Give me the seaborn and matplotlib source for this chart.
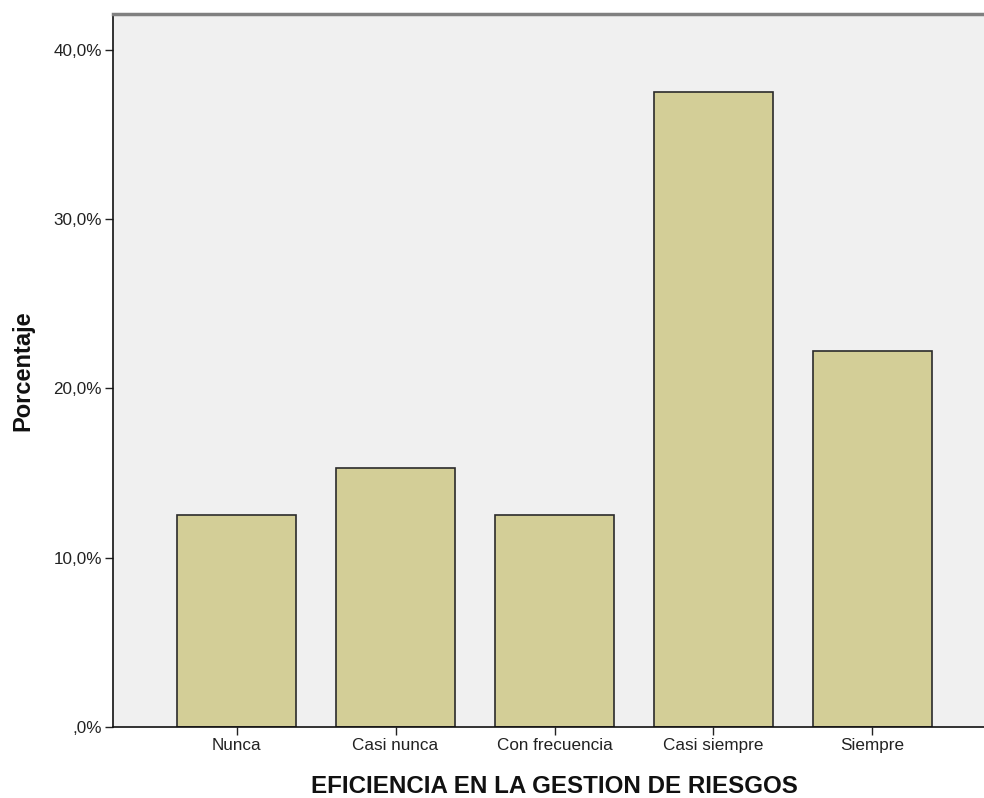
import matplotlib
matplotlib.use("Agg")
import matplotlib.pyplot as plt
import seaborn as sns
import pandas as pd
from matplotlib.ticker import FuncFormatter

categories = ["Nunca", "Casi nunca", "Con frecuencia", "Casi siempre", "Siempre"]
percentages = [12.5, 15.28, 12.5, 37.5, 22.22]
y_ticks = [0, 10, 20, 30, 40]
x_label = "EFICIENCIA EN LA GESTION DE RIESGOS"
y_label = "Porcentaje"

sns.set_theme(style="white")
plt.rcParams['font.family'] = ['Liberation Sans', 'DejaVu Sans']

df = pd.DataFrame({"cat": categories, "pct": percentages})

fig = plt.figure(figsize=(9.84, 7.98), dpi=100)
W, H = 984, 798
left, right, top, bottom = 113, 996, 14, 727
ax = fig.add_axes([left / W, 1 - bottom / H, (right - left) / W, (bottom - top) / H])
ax.set_facecolor("#F0F0F0")

sns.barplot(data=df, x="cat", y="pct", ax=ax, color="#D3CE97", saturation=1,
            width=0.75, edgecolor="#2b2b2b", linewidth=1.2)


def pct_fmt(v, pos):
    s = f"{v:.1f}%".replace(".", ",")
    return s[1:] if s.startswith("0") else s


ax.set_xlim(-0.777, 4.777)
ax.set_ylim(0, 42.1)
ax.set_yticks(y_ticks)
ax.yaxis.set_major_formatter(FuncFormatter(pct_fmt))
ax.tick_params(axis="both", which="both", direction="out", length=6, width=1,
               color="#222222", labelsize=12.3, labelcolor="#222222", pad=2,
               left=True, bottom=True)

for s in ["left", "bottom"]:
    ax.spines[s].set_color("#111111")
    ax.spines[s].set_linewidth(1.2)
ax.spines["top"].set_color("#808080")
ax.spines["top"].set_linewidth(2.5)
ax.spines["right"].set_visible(False)

ax.set_xlabel(x_label, fontsize=17.4, fontweight="bold", labelpad=16, color="#111111")
ax.set_ylabel(y_label, fontsize=17, fontweight="bold", labelpad=14, color="#111111")

fig.savefig("out.png", dpi=100)
